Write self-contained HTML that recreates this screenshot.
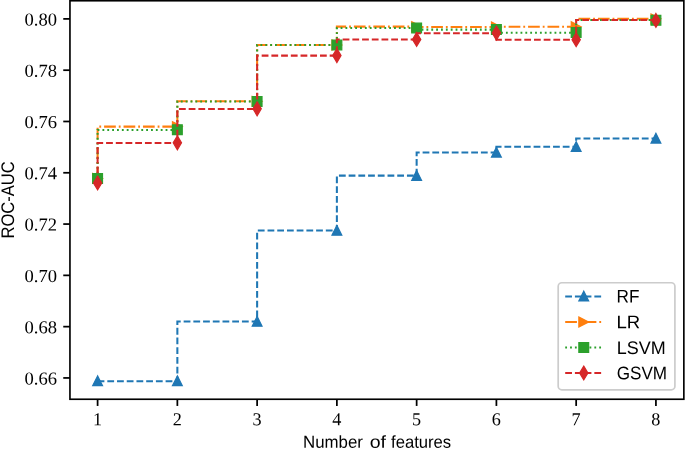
<!DOCTYPE html>
<html lang="en">
<head>
<meta charset="utf-8">
<title>ROC-AUC vs number of features</title>
<style>
html,body{margin:0;padding:0;background:#fff;}
body{width:685px;height:449px;overflow:hidden;}
svg{display:block;}
text{text-rendering:geometricPrecision;}
.tick{font-family:"Liberation Serif","DejaVu Serif",serif;font-size:18.2px;fill:#000;}
.lab{font-family:"Liberation Sans","DejaVu Sans",sans-serif;font-size:18.2px;fill:#000;}
</style>
</head>
<body>
<svg width="685" height="449" viewBox="0 0 685 449">
<rect x="0" y="0" width="685" height="449" fill="#ffffff"/>
<g fill="none" stroke-linecap="butt" stroke-linejoin="miter">
<g>
<path d="M97.6 381.2 L97.6 381.2 L177.36 381.2 L177.36 321.5 L257.12 321.5 L257.12 230.5 L336.88 230.5 L336.88 175.6 L416.64 175.6 L416.64 152.4 L496.4 152.4 L496.4 146.8 L576.16 146.8 L576.16 138.4 L655.92 138.4" stroke="#1f77b4" stroke-width="2.05" stroke-dasharray="6.783 2.933" fill="none"/>
<polygon points="97.6,375.91 92.71,385.69 102.49,385.69" fill="#1f77b4" stroke="#1f77b4" stroke-width="1.22" stroke-linejoin="miter"/>
<polygon points="177.36,375.91 172.47,385.69 182.25,385.69" fill="#1f77b4" stroke="#1f77b4" stroke-width="1.22" stroke-linejoin="miter"/>
<polygon points="257.12,316.41 252.23,326.19 262.01,326.19" fill="#1f77b4" stroke="#1f77b4" stroke-width="1.22" stroke-linejoin="miter"/>
<polygon points="336.88,225.41 331.99,235.19 341.77,235.19" fill="#1f77b4" stroke="#1f77b4" stroke-width="1.22" stroke-linejoin="miter"/>
<polygon points="416.64,170.51 411.75,180.29 421.53,180.29" fill="#1f77b4" stroke="#1f77b4" stroke-width="1.22" stroke-linejoin="miter"/>
<polygon points="496.4,147.31 491.51,157.09 501.29,157.09" fill="#1f77b4" stroke="#1f77b4" stroke-width="1.22" stroke-linejoin="miter"/>
<polygon points="576.16,141.71 571.27,151.49 581.05,151.49" fill="#1f77b4" stroke="#1f77b4" stroke-width="1.22" stroke-linejoin="miter"/>
<polygon points="655.92,133.31 651.03,143.09 660.81,143.09" fill="#1f77b4" stroke="#1f77b4" stroke-width="1.22" stroke-linejoin="miter"/>
</g>
<g>
<path d="M97.6 178.4 L97.6 126.6 L177.36 126.6 L177.36 101.3 L257.12 101.3 L257.12 45 L336.88 45 L336.88 26.6 L416.64 26.6 L416.64 27 L496.4 27 L496.4 26.7 L576.16 26.7 L576.16 18.8 L655.92 18.8" stroke="#ff7f0e" stroke-width="2.05" stroke-dasharray="11.733 2.933 1.833 2.933" fill="none"/>
<polygon points="102.49,178.4 92.71,173.51 92.71,183.29" fill="#ff7f0e" stroke="#ff7f0e" stroke-width="1.22" stroke-linejoin="miter"/>
<polygon points="182.25,126.6 172.47,121.71 172.47,131.49" fill="#ff7f0e" stroke="#ff7f0e" stroke-width="1.22" stroke-linejoin="miter"/>
<polygon points="262.01,101.3 252.23,96.41 252.23,106.19" fill="#ff7f0e" stroke="#ff7f0e" stroke-width="1.22" stroke-linejoin="miter"/>
<polygon points="341.77,45 331.99,40.11 331.99,49.89" fill="#ff7f0e" stroke="#ff7f0e" stroke-width="1.22" stroke-linejoin="miter"/>
<polygon points="421.53,26.6 411.75,21.71 411.75,31.49" fill="#ff7f0e" stroke="#ff7f0e" stroke-width="1.22" stroke-linejoin="miter"/>
<polygon points="501.29,27 491.51,22.11 491.51,31.89" fill="#ff7f0e" stroke="#ff7f0e" stroke-width="1.22" stroke-linejoin="miter"/>
<polygon points="581.05,26.7 571.27,21.81 571.27,31.59" fill="#ff7f0e" stroke="#ff7f0e" stroke-width="1.22" stroke-linejoin="miter"/>
<polygon points="660.81,18.8 651.03,13.91 651.03,23.69" fill="#ff7f0e" stroke="#ff7f0e" stroke-width="1.22" stroke-linejoin="miter"/>
</g>
<g>
<path d="M97.6 178.5 L97.6 129.9 L177.36 129.9 L177.36 101.4 L257.12 101.4 L257.12 45 L336.88 45 L336.88 28 L416.64 28 L416.64 29.6 L496.4 29.6 L496.4 32.7 L576.16 32.7 L576.16 19.9 L655.92 19.9" stroke="#2ca02c" stroke-width="2.05" stroke-dasharray="1.833 3.025" fill="none"/>
<polygon points="92.71,173.61 102.49,173.61 102.49,183.39 92.71,183.39" fill="#2ca02c" stroke="#2ca02c" stroke-width="1.22" stroke-linejoin="miter"/>
<polygon points="172.47,124.81 182.25,124.81 182.25,134.59 172.47,134.59" fill="#2ca02c" stroke="#2ca02c" stroke-width="1.22" stroke-linejoin="miter"/>
<polygon points="252.23,96.51 262.01,96.51 262.01,106.29 252.23,106.29" fill="#2ca02c" stroke="#2ca02c" stroke-width="1.22" stroke-linejoin="miter"/>
<polygon points="331.99,40.11 341.77,40.11 341.77,49.89 331.99,49.89" fill="#2ca02c" stroke="#2ca02c" stroke-width="1.22" stroke-linejoin="miter"/>
<polygon points="411.75,23.11 421.53,23.11 421.53,32.89 411.75,32.89" fill="#2ca02c" stroke="#2ca02c" stroke-width="1.22" stroke-linejoin="miter"/>
<polygon points="491.51,24.71 501.29,24.71 501.29,34.49 491.51,34.49" fill="#2ca02c" stroke="#2ca02c" stroke-width="1.22" stroke-linejoin="miter"/>
<polygon points="571.27,27.71 581.05,27.71 581.05,37.49 571.27,37.49" fill="#2ca02c" stroke="#2ca02c" stroke-width="1.22" stroke-linejoin="miter"/>
<polygon points="651.03,15.41 660.81,15.41 660.81,25.19 651.03,25.19" fill="#2ca02c" stroke="#2ca02c" stroke-width="1.22" stroke-linejoin="miter"/>
</g>
<g>
<path d="M97.6 183 L97.6 142.9 L177.36 142.9 L177.36 108.9 L257.12 108.9 L257.12 55.6 L336.88 55.6 L336.88 39.4 L416.64 39.4 L416.64 33.2 L496.4 33.2 L496.4 39.7 L576.16 39.7 L576.16 19.9 L655.92 19.9" stroke="#d62728" stroke-width="2.05" stroke-dasharray="6.783 2.933" fill="none"/>
<polygon points="97.6,176.08 101.75,183 97.6,189.92 93.45,183" fill="#d62728" stroke="#d62728" stroke-width="1.22" stroke-linejoin="miter"/>
<polygon points="177.36,135.88 181.51,142.8 177.36,149.72 173.21,142.8" fill="#d62728" stroke="#d62728" stroke-width="1.22" stroke-linejoin="miter"/>
<polygon points="257.12,101.88 261.27,108.8 257.12,115.72 252.97,108.8" fill="#d62728" stroke="#d62728" stroke-width="1.22" stroke-linejoin="miter"/>
<polygon points="336.88,48.68 341.03,55.6 336.88,62.52 332.73,55.6" fill="#d62728" stroke="#d62728" stroke-width="1.22" stroke-linejoin="miter"/>
<polygon points="416.64,32.48 420.79,39.4 416.64,46.32 412.49,39.4" fill="#d62728" stroke="#d62728" stroke-width="1.22" stroke-linejoin="miter"/>
<polygon points="496.4,26.18 500.55,33.1 496.4,40.02 492.25,33.1" fill="#d62728" stroke="#d62728" stroke-width="1.22" stroke-linejoin="miter"/>
<polygon points="576.16,32.78 580.31,39.7 576.16,46.62 572.01,39.7" fill="#d62728" stroke="#d62728" stroke-width="1.22" stroke-linejoin="miter"/>
<polygon points="655.92,13.48 660.07,20.4 655.92,27.32 651.77,20.4" fill="#d62728" stroke="#d62728" stroke-width="1.22" stroke-linejoin="miter"/>
</g>
</g>
<g stroke="#000" stroke-width="1.75">
<line x1="97.6" y1="399.25" x2="97.6" y2="405.95"/>
<line x1="177.36" y1="399.25" x2="177.36" y2="405.95"/>
<line x1="257.12" y1="399.25" x2="257.12" y2="405.95"/>
<line x1="336.88" y1="399.25" x2="336.88" y2="405.95"/>
<line x1="416.64" y1="399.25" x2="416.64" y2="405.95"/>
<line x1="496.4" y1="399.25" x2="496.4" y2="405.95"/>
<line x1="576.16" y1="399.25" x2="576.16" y2="405.95"/>
<line x1="655.92" y1="399.25" x2="655.92" y2="405.95"/>
<line x1="63.25" y1="377.94" x2="69.95" y2="377.94"/>
<line x1="63.25" y1="326.65" x2="69.95" y2="326.65"/>
<line x1="63.25" y1="275.36" x2="69.95" y2="275.36"/>
<line x1="63.25" y1="224.07" x2="69.95" y2="224.07"/>
<line x1="63.25" y1="172.78" x2="69.95" y2="172.78"/>
<line x1="63.25" y1="121.48" x2="69.95" y2="121.48"/>
<line x1="63.25" y1="70.19" x2="69.95" y2="70.19"/>
<line x1="63.25" y1="18.9" x2="69.95" y2="18.9"/>
</g>
<rect x="69.95" y="0.75" width="613.9" height="398.5" fill="none" stroke="#000" stroke-width="1.65"/>
<text class="tick" transform="translate(97.6 425.3) rotate(0.03)" text-anchor="middle">1</text>
<text class="tick" transform="translate(177.36 425.3) rotate(0.03)" text-anchor="middle">2</text>
<text class="tick" transform="translate(257.12 425.3) rotate(0.03)" text-anchor="middle">3</text>
<text class="tick" transform="translate(336.88 425.3) rotate(0.03)" text-anchor="middle">4</text>
<text class="tick" transform="translate(416.64 425.3) rotate(0.03)" text-anchor="middle">5</text>
<text class="tick" transform="translate(496.4 425.3) rotate(0.03)" text-anchor="middle">6</text>
<text class="tick" transform="translate(576.16 425.3) rotate(0.03)" text-anchor="middle">7</text>
<text class="tick" transform="translate(655.92 425.3) rotate(0.03)" text-anchor="middle">8</text>
<text class="tick" transform="translate(57 384.49) rotate(0.03)" text-anchor="end" textLength="32.5" lengthAdjust="spacingAndGlyphs">0.66</text>
<text class="tick" transform="translate(57 333.2) rotate(0.03)" text-anchor="end" textLength="32.5" lengthAdjust="spacingAndGlyphs">0.68</text>
<text class="tick" transform="translate(57 281.91) rotate(0.03)" text-anchor="end" textLength="32.5" lengthAdjust="spacingAndGlyphs">0.70</text>
<text class="tick" transform="translate(57 230.62) rotate(0.03)" text-anchor="end" textLength="32.5" lengthAdjust="spacingAndGlyphs">0.72</text>
<text class="tick" transform="translate(57 179.33) rotate(0.03)" text-anchor="end" textLength="32.5" lengthAdjust="spacingAndGlyphs">0.74</text>
<text class="tick" transform="translate(57 128.03) rotate(0.03)" text-anchor="end" textLength="32.5" lengthAdjust="spacingAndGlyphs">0.76</text>
<text class="tick" transform="translate(57 76.74) rotate(0.03)" text-anchor="end" textLength="32.5" lengthAdjust="spacingAndGlyphs">0.78</text>
<text class="tick" transform="translate(57 25.45) rotate(0.03)" text-anchor="end" textLength="32.5" lengthAdjust="spacingAndGlyphs">0.80</text>
<text class="lab" style="font-size:17.3px" transform="translate(303 447.75) rotate(0.03)" textLength="59.9" lengthAdjust="spacingAndGlyphs">Number</text>
<text class="lab" style="font-size:17.3px" transform="translate(369.7 447.75) rotate(0.03)" textLength="16.3" lengthAdjust="spacingAndGlyphs">of</text>
<text class="lab" style="font-size:17.3px" transform="translate(391 447.75) rotate(0.03)" textLength="60.2" lengthAdjust="spacingAndGlyphs">features</text>
<text class="lab" transform="translate(13.9 199.9) rotate(-90.03)" text-anchor="middle" textLength="77.2" lengthAdjust="spacingAndGlyphs">ROC-AUC</text>
<rect x="558.2" y="282.75" width="116.7" height="107.05" rx="3.6" ry="3.6" fill="#ffffff" fill-opacity="0.8" stroke="#cccccc" stroke-width="1.7"/>
<line x1="565.2" y1="296.4" x2="601.9" y2="296.4" stroke="#1f77b4" stroke-width="2.05" stroke-dasharray="6.783 2.933"/>
<polygon points="583.75,291.21 578.86,300.99 588.64,300.99" fill="#1f77b4" stroke="#1f77b4" stroke-width="1.22" stroke-linejoin="miter"/>
<text class="lab" transform="translate(616.5 302.5) rotate(0.03)" textLength="22.9" lengthAdjust="spacingAndGlyphs">RF</text>
<line x1="565.2" y1="322" x2="601.9" y2="322" stroke="#ff7f0e" stroke-width="2.05" stroke-dasharray="11.733 2.933 1.833 2.933"/>
<polygon points="588.64,322 578.86,317.11 578.86,326.89" fill="#ff7f0e" stroke="#ff7f0e" stroke-width="1.22" stroke-linejoin="miter"/>
<text class="lab" transform="translate(616.4 328.3) rotate(0.03)" textLength="23.7" lengthAdjust="spacingAndGlyphs">LR</text>
<line x1="565.2" y1="347.5" x2="601.9" y2="347.5" stroke="#2ca02c" stroke-width="2.05" stroke-dasharray="1.833 3.025"/>
<polygon points="578.86,342.61 588.64,342.61 588.64,352.39 578.86,352.39" fill="#2ca02c" stroke="#2ca02c" stroke-width="1.22" stroke-linejoin="miter"/>
<text class="lab" transform="translate(616.7 353.95) rotate(0.03)" textLength="48.9" lengthAdjust="spacingAndGlyphs">LSVM</text>
<line x1="565.2" y1="373" x2="601.9" y2="373" stroke="#d62728" stroke-width="2.05" stroke-dasharray="6.783 2.933"/>
<polygon points="583.75,366.08 587.9,373 583.75,379.92 579.6,373" fill="#d62728" stroke="#d62728" stroke-width="1.22" stroke-linejoin="miter"/>
<text class="lab" transform="translate(616.7 379.35) rotate(0.03)" textLength="50.4" lengthAdjust="spacingAndGlyphs">GSVM</text>
</svg>
</body>
</html>
